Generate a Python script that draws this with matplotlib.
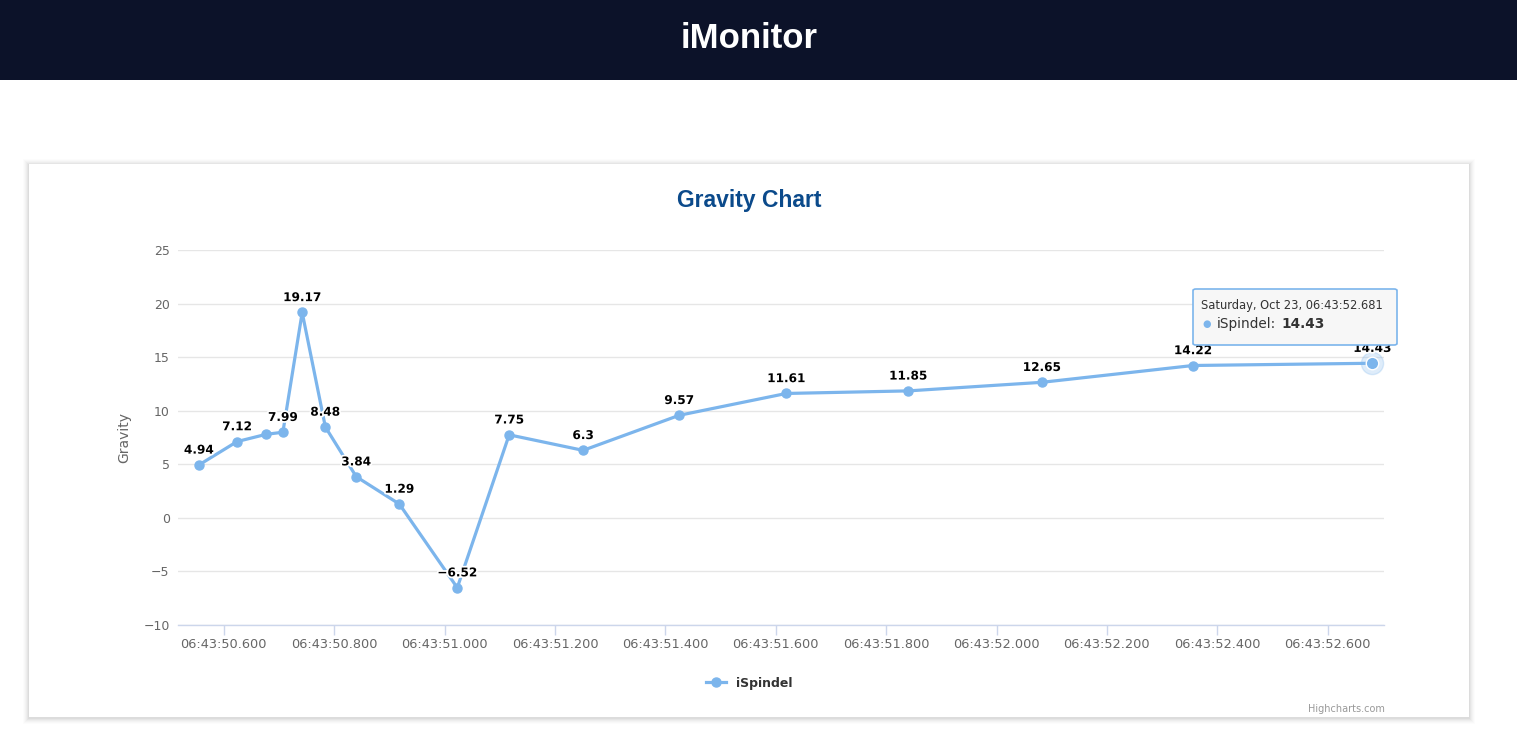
import matplotlib
matplotlib.use("Agg")
import matplotlib.pyplot as plt
import matplotlib.patches as mpatches
import matplotlib.patheffects as pe
from matplotlib.ticker import FuncFormatter, MultipleLocator

# Messwerte (Zeit, Gravity)
times = ["06:43:50.555", "06:43:50.624", "06:43:50.677", "06:43:50.707",
         "06:43:50.742", "06:43:50.784", "06:43:50.840", "06:43:50.918",
         "06:43:51.023", "06:43:51.117", "06:43:51.251", "06:43:51.425",
         "06:43:51.619", "06:43:51.840", "06:43:52.082", "06:43:52.356",
         "06:43:52.681"]
gravity = [4.94, 7.12, 7.8, 7.99, 19.17, 8.48, 3.84, 1.29, -6.52, 7.75,
           6.3, 9.57, 11.61, 11.85, 12.65, 14.22, 14.43]
hidden_labels = [2]  # Label überlappt, wird ausgeblendet
series_name = "iSpindel"
tooltip_date = "Saturday, Oct 23, 06:43:52.681"

# Sekunden innerhalb der Minute
secs = [float(t.split(":")[2]) for t in times]

W, H = 1517, 739
fig = plt.figure(figsize=(W / 100, H / 100), dpi=100)
fig.patch.set_facecolor("white")

# Kopfzeile
fig.patches.append(mpatches.Rectangle((0, 1 - 80 / H), 1, 80 / H, transform=fig.transFigure,
                                      facecolor="#0c1229", edgecolor="none", zorder=0))
fig.text(749 / W, 1 - 38 / H, "iMonitor", color="white", fontsize=25, fontweight="bold",
         ha="center", va="center", family="Liberation Sans")

# Karte mit Schatten
cx0, cy0, cx1, cy1 = 29, 164, 1469, 717
for i, a in enumerate([0.012, 0.015, 0.02, 0.025, 0.03, 0.035]):
    g = 6 - i
    fig.patches.append(mpatches.Rectangle(((cx0 - g) / W, 1 - (cy1 + g + 1) / H),
                                          (cx1 - cx0 + 2 * g) / W, (cy1 - cy0 + 2 * g) / H,
                                          transform=fig.transFigure, facecolor="black",
                                          alpha=a, edgecolor="none", zorder=0))
fig.patches.append(mpatches.Rectangle((cx0 / W, 1 - cy1 / H), (cx1 - cx0) / W, (cy1 - cy0) / H,
                                      transform=fig.transFigure, facecolor="white",
                                      edgecolor="none", zorder=0))

fig.text(749 / W, 1 - 201 / H, "Gravity Chart", color="#0b4a8b", fontsize=16.5,
         fontweight="bold", ha="center", va="center", family="Liberation Sans")

ax = fig.add_axes([178 / W, 1 - 625 / H, (1384 - 178) / W, (625 - 250) / H])
ax.set_zorder(1)
ax.set_facecolor("none")
ax.set_xlim(50.517, 52.702)
ax.set_ylim(-10, 25)
ax.yaxis.set_major_locator(MultipleLocator(5))
ax.xaxis.set_major_locator(MultipleLocator(0.2))
ax.xaxis.set_major_formatter(FuncFormatter(lambda v, p: "06:43:%06.3f" % v))
ax.yaxis.set_major_formatter(FuncFormatter(lambda v, p: ("\u2212%d" % -v) if v < 0 else "%d" % v))
for s in ["top", "right", "left"]:
    ax.spines[s].set_visible(False)
ax.spines["bottom"].set_color("#ccd6eb")
ax.spines["bottom"].set_linewidth(1)
ax.grid(axis="y", color="#e6e6e6", linewidth=1)
ax.set_axisbelow(True)
ax.tick_params(axis="x", colors="#ccd6eb", length=7.5, width=1, labelcolor="#666666",
               labelsize=9.3, pad=1.5)
ax.tick_params(axis="y", length=0, labelcolor="#666666", labelsize=9, pad=6)
ax.set_ylabel("Gravity", color="#666666", fontsize=10, labelpad=9)

ax.plot(secs, gravity, color="#7cb5ec", linewidth=2.3, marker="o", markersize=6.5,
        zorder=3, clip_on=False, label=series_name)
# hervorgehobener letzter Punkt
ax.plot(secs[-1], gravity[-1], "o", color="#7cb5ec", markersize=16, alpha=0.25,
        zorder=2, clip_on=False)
ax.plot(secs[-1], gravity[-1], "o", color="#7cb5ec", markersize=9, markeredgecolor="white",
        markeredgewidth=1, zorder=4, clip_on=False)

for i, (x, y) in enumerate(zip(secs, gravity)):
    if i in hidden_labels:
        continue
    lbl = ("\u2212%g" % -y) if y < 0 else "%g" % y
    ax.annotate(lbl, (x, y), xytext=(0, 6), textcoords="offset points", ha="center",
                va="bottom", fontsize=8.7, fontweight="bold", color="black", zorder=5,
                path_effects=[pe.withStroke(linewidth=2.5, foreground="white")])

# Tooltip
tx0, ty0, tx1, ty1 = 1193, 289, 1397, 345
fig.patches.append(mpatches.FancyBboxPatch((tx0 / W, 1 - ty1 / H), (tx1 - tx0) / W, (ty1 - ty0) / H,
                                           boxstyle="round,pad=0,rounding_size=0.002",
                                           transform=fig.transFigure, facecolor="#f7f7f7",
                                           edgecolor="#7cb5ec", linewidth=1.2, zorder=10))
fig.text(1201 / W, 1 - 306 / H, tooltip_date, fontsize=8.3, color="#333333",
         va="center", ha="left", zorder=11)
fig.text(1207 / W, 1 - 324 / H, "\u25cf", fontsize=7, color="#7cb5ec", va="center",
         ha="center", zorder=11)
t1 = fig.text(1217 / W, 1 - 324 / H, series_name + ":", fontsize=9.8, color="#333333",
              va="center", ha="left", zorder=11)
bb = t1.get_window_extent(renderer=fig.canvas.get_renderer())
fig.text((bb.x1 + 5) / W, 1 - 324 / H, "%g" % gravity[-1], fontsize=9.8, color="#333333",
         fontweight="bold", va="center", ha="left", zorder=11)

# Legende
leg = ax.legend(loc="center", bbox_to_anchor=(749 / W, 1 - 683 / H),
                bbox_transform=fig.transFigure, frameon=False, handlelength=1.6,
                prop={"weight": "bold", "size": 9})
for t in leg.get_texts():
    t.set_color("#333333")

fig.text(1385 / W, 1 - 709 / H, "Highcharts.com", fontsize=7, color="#999999",
         ha="right", va="center")

fig.savefig("out.png", dpi=100)
